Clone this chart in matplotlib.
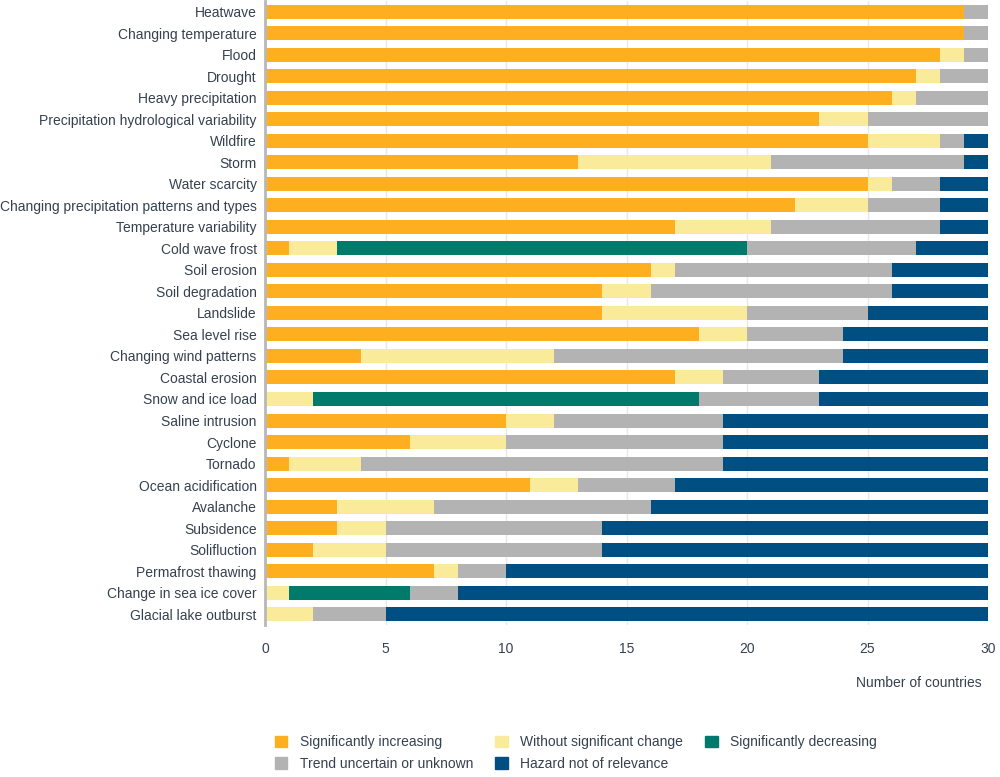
import matplotlib.pyplot as plt
import numpy as np
from matplotlib.patches import Patch

plt.rcParams['font.family'] = ['Liberation Sans', 'DejaVu Sans']

hazards = [
	'Heatwave', 'Changing temperature', 'Flood', 'Drought', 'Heavy precipitation',
	'Precipitation hydrological variability', 'Wildfire', 'Storm', 'Water scarcity',
	'Changing precipitation patterns and types', 'Temperature variability',
	'Cold wave frost', 'Soil erosion', 'Soil degradation', 'Landslide', 'Sea level rise',
	'Changing wind patterns', 'Coastal erosion', 'Snow and ice load', 'Saline intrusion',
	'Cyclone', 'Tornado', 'Ocean acidification', 'Avalanche', 'Subsidence',
	'Solifluction', 'Permafrost thawing', 'Change in sea ice cover', 'Glacial lake outburst',
]

increasing = [29, 29, 28, 27, 26, 23, 25, 13, 25, 22, 17, 1, 16, 14, 14, 18, 4, 17, 0, 10, 6, 1, 11, 3, 3, 2, 7, 0, 0]
no_change  = [0, 0, 1, 1, 1, 2, 3, 8, 1, 3, 4, 2, 1, 2, 6, 2, 8, 2, 2, 2, 4, 3, 2, 4, 2, 3, 1, 1, 2]
decreasing = [0, 0, 0, 0, 0, 0, 0, 0, 0, 0, 0, 17, 0, 0, 0, 0, 0, 0, 16, 0, 0, 0, 0, 0, 0, 0, 0, 5, 0]
uncertain  = [1, 1, 1, 2, 3, 5, 1, 8, 2, 3, 7, 7, 9, 10, 5, 4, 12, 4, 5, 7, 9, 15, 4, 9, 9, 9, 2, 2, 3]
not_relevant = [0, 0, 0, 0, 0, 0, 1, 1, 2, 2, 2, 3, 4, 4, 5, 6, 6, 7, 7, 11, 11, 11, 13, 14, 16, 16, 20, 22, 25]

series = [
	('Significantly increasing', increasing, '#fdaf20'),
	('Without significant change', no_change, '#faeb9b'),
	('Significantly decreasing', decreasing, '#007b6b'),
	('Trend uncertain or unknown', uncertain, '#b3b3b3'),
	('Hazard not of relevance', not_relevant, '#004f82'),
]

TXT = '#36414f'
FS = 10

fig = plt.figure(figsize=(10, 7.77), dpi=100)
ax = fig.add_axes([0.265, 1 - 625/777, 0.988 - 0.265, 625/777 - 0.001])

y = np.arange(len(hazards))
left = np.zeros(len(hazards))
for name, vals, col in series:
	vals = np.array(vals)
	ax.barh(y, vals, left=left, height=0.65, color=col, label=name, zorder=3)
	left += vals

ax.set_ylim(len(hazards) - 0.5, -0.5)
ax.set_xlim(0, 30)
ax.set_xticks(range(0, 31, 5))
ax.set_yticks(y)
ax.set_yticklabels(hazards)
ax.tick_params(axis='y', length=0, pad=6, labelsize=FS, labelcolor=TXT)
ax.tick_params(axis='x', length=0, pad=12, labelsize=FS, labelcolor=TXT)
ax.grid(axis='x', color='#e8e8e8', linewidth=1, zorder=0)

for s in ['top', 'right', 'bottom']:
	ax.spines[s].set_visible(False)
ax.spines['left'].set_color('#b8b8b8')
ax.spines['left'].set_linewidth(2)
ax.spines['left'].set_zorder(4)

fig.text(0.982, 1 - 683/777, 'Number of countries', ha='right', va='center', fontsize=FS, color=TXT)

# legend is filled column by column, so order handles for row-wise look
patches = [Patch(color=c, label=n) for n, v, c in series]
order = [0, 3, 1, 4, 2]
leg = fig.legend([patches[i] for i in order], [patches[i].get_label() for i in order],
	ncol=3, loc='lower left', bbox_to_anchor=(0.262, -0.008), frameon=False,
	fontsize=FS, handlelength=0.9, handleheight=0.9, handletextpad=0.9,
	columnspacing=1.6, labelspacing=0.55)
for t in leg.get_texts():
	t.set_color(TXT)

plt.savefig('out.png')
